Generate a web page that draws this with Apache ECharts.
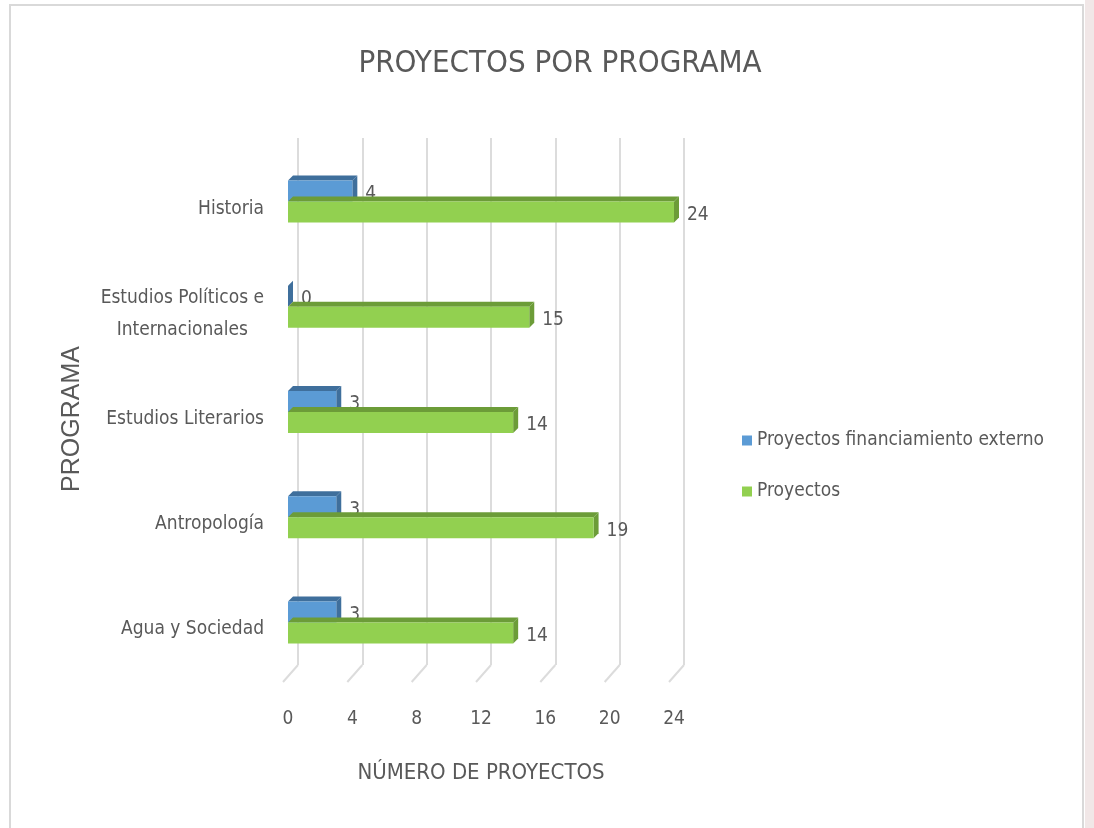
<!DOCTYPE html>
<html>
<head>
<meta charset="utf-8">
<script src="https://cdn.jsdelivr.net/npm/echarts@6/dist/echarts.min.js"></script>
<style>
  html, body { margin: 0; padding: 0; background: #fff; }
  #chart { width: 1094px; height: 828px; }
</style>
</head>
<body>
<div id="chart"></div>
<script>
// datos
var programas = ['Historia', 'Estudios Políticos e\nInternacionales', 'Estudios Literarios', 'Antropología', 'Agua y Sociedad'];
var financiamientoExterno = [4, 0, 3, 3, 3];
var proyectos = [24, 15, 14, 19, 14];
var xTicks = [0, 4, 8, 12, 16, 20, 24];

var FONT = "'Liberation Sans Narrow', 'DejaVu Sans Condensed', sans-serif";
var GRAY = '#595959';
var GRID_COLOR = '#dcdcdc';

var chart = echarts.init(document.getElementById('chart'));

// barra con efecto 3D (cara frontal, superior y lateral)
// upper = true -> barra de arriba dentro del par
function bar3d(front, dark, upper) {
  return function (params, api) {
    var cat = api.value(1);
    var val = api.value(0);
    var p0 = api.coord([0, cat]);
    var p1 = api.coord([val, cat]);
    var h = 21, d = 5;
    var top = p0[1] - 7 + (upper ? -h : 0);
    var x0 = p0[0], x1 = p1[0];
    return {
      type: 'group',
      children: [
        { type: 'polygon', shape: { points: [[x0, top], [x0 + d, top - d], [x1 + d, top - d], [x1, top]] }, style: { fill: dark } },
        { type: 'polygon', shape: { points: [[x1, top], [x1 + d, top - d], [x1 + d, top + h - d], [x1, top + h]] }, style: { fill: dark } },
        { type: 'rect', shape: { x: x0, y: top, width: x1 - x0, height: h }, style: { fill: front } },
        { type: 'text', x: x1 + 13, y: top + h / 2 + 3, style: { text: String(val), fill: GRAY, font: '19px ' + FONT, verticalAlign: 'middle' } }
      ]
    };
  };
}

// tramo inclinado del piso bajo cada linea de division
function floorLine(params, api) {
  var p = api.coord([api.value(0), 0]);
  var bottom = params.coordSys.y + params.coordSys.height;
  return {
    type: 'line',
    shape: { x1: p[0], y1: bottom, x2: p[0] - 15, y2: bottom + 17 },
    style: { stroke: GRID_COLOR, lineWidth: 2 }
  };
}

var option = {
  backgroundColor: '#fff',
  animation: false,
  title: {
    text: 'PROYECTOS POR PROGRAMA',
    left: 555, top: 43, textAlign: 'center',
    textStyle: { fontFamily: FONT, fontSize: 31, fontWeight: 'normal', color: GRAY }
  },
  legend: {
    orient: 'vertical', left: 737, top: 426, itemGap: 32,
    itemWidth: 10, itemHeight: 10, icon: 'rect',
    textStyle: { fontFamily: FONT, fontSize: 19, color: GRAY },
    data: ['Proyectos financiamiento externo', 'Proyectos']
  },
  grid: [
    { left: 288, top: 156, width: 386, height: 526 },
    { left: 298, top: 138, width: 386, height: 527 }
  ],
  xAxis: [
    {
      type: 'value', gridIndex: 0, min: 0, max: 24, interval: 4,
      name: 'NÚMERO DE PROYECTOS', nameLocation: 'middle', nameGap: 80,
      nameTextStyle: { fontFamily: FONT, fontSize: 22, color: GRAY },
      axisLine: { show: false }, axisTick: { show: false }, splitLine: { show: false },
      axisLabel: { margin: 28, fontFamily: FONT, fontSize: 19, color: GRAY,
        customValues: xTicks }
    },
    {
      type: 'value', gridIndex: 1, min: 0, max: 24, interval: 4,
      axisLine: { show: false }, axisTick: { show: false }, axisLabel: { show: false },
      splitLine: { lineStyle: { color: GRID_COLOR, width: 2 } }
    }
  ],
  yAxis: [
    {
      type: 'category', gridIndex: 0, inverse: true, data: programas,
      name: 'PROGRAMA', nameLocation: 'middle', nameGap: 203, nameRotate: 90,
      nameTextStyle: { fontFamily: "'Liberation Sans', sans-serif", fontSize: 25, color: GRAY },
      axisLine: { show: false }, axisTick: { show: false },
      axisLabel: {
        margin: 24, fontFamily: FONT, fontSize: 19, color: GRAY, lineHeight: 32,
        formatter: function (v) {
          return v.indexOf('\n') >= 0 ? v.split('\n').map(function (s) { return '{c|' + s + '}'; }).join('\n') : v;
        },
        rich: { c: { align: 'center', fontFamily: FONT, fontSize: 19, color: GRAY, lineHeight: 32 } }
      }
    },
    {
      type: 'category', gridIndex: 1, data: programas, show: false
    }
  ],
  graphic: [
    { type: 'rect', shape: { x: 10, y: 5, width: 1073, height: 840 }, style: { fill: 'none', stroke: '#d9d9d9', lineWidth: 2 }, z: -1 },
    { type: 'rect', shape: { x: 1085, y: 0, width: 9, height: 828 }, style: { fill: '#f1e7e7' }, z: -1 }
  ],
  series: [
    {
      name: 'piso', type: 'custom', xAxisIndex: 1, yAxisIndex: 1, silent: true, z: 1,
      renderItem: floorLine,
      data: xTicks.map(function (v) { return [v]; })
    },
    {
      name: 'Proyectos financiamiento externo', type: 'custom', xAxisIndex: 0, yAxisIndex: 0,
      itemStyle: { color: '#5b9bd5' },
      renderItem: bar3d('#5b9bd5', '#3f6f9c', true),
      data: financiamientoExterno.map(function (v, i) { return [v, i]; })
    },
    {
      name: 'Proyectos', type: 'custom', xAxisIndex: 0, yAxisIndex: 0,
      itemStyle: { color: '#92d050' },
      renderItem: bar3d('#92d050', '#6c9c38', false),
      data: proyectos.map(function (v, i) { return [v, i]; })
    }
  ]
};

chart.setOption(option);
window.addEventListener('resize', function () { chart.resize(); });
</script>
</body>
</html>
